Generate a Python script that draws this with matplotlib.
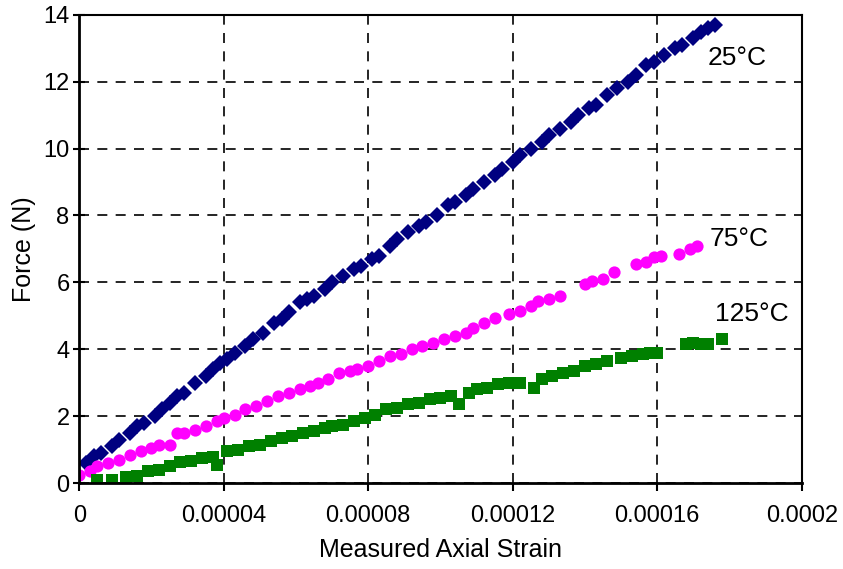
import numpy as np
import matplotlib.pyplot as plt

plt.rcParams['font.family'] = ['Liberation Sans', 'DejaVu Sans']

# strain readings are in units of 1e-5, force in N
strain_25 = [0.2, 0.4, 0.6, 0.9, 1.1, 1.4, 1.6, 1.8, 2.1, 2.3, 2.5, 2.7, 2.9, 3.2, 3.5,
             3.7, 3.9, 4.1, 4.3, 4.6, 4.8, 5.1, 5.4, 5.6, 5.8, 6.1, 6.3, 6.5, 6.8, 7.0,
             7.3, 7.6, 7.8, 8.1, 8.3, 8.6, 8.8, 9.1, 9.4, 9.6, 9.9, 10.2, 10.4, 10.7,
             10.9, 11.2, 11.5, 11.7, 12.0, 12.2, 12.5, 12.8, 13.0, 13.3, 13.6, 13.8,
             14.1, 14.3, 14.6, 14.9, 15.2, 15.4, 15.7, 15.9, 16.2, 16.5, 16.7, 17.0,
             17.2, 17.4, 17.6]
force_25 = [0.6, 0.8, 0.9, 1.1, 1.3, 1.5, 1.7, 1.8, 2.0, 2.2, 2.4, 2.6, 2.7, 3.0, 3.2,
            3.4, 3.6, 3.7, 3.9, 4.1, 4.3, 4.5, 4.8, 4.9, 5.1, 5.4, 5.5, 5.6, 5.8, 6.0,
            6.2, 6.4, 6.5, 6.7, 6.8, 7.1, 7.3, 7.5, 7.7, 7.8, 8.0, 8.3, 8.4, 8.6,
            8.8, 9.0, 9.2, 9.4, 9.6, 9.8, 10.0, 10.2, 10.4, 10.6, 10.8, 11.0,
            11.2, 11.3, 11.6, 11.8, 12.0, 12.2, 12.5, 12.6, 12.8, 13.0, 13.1, 13.3,
            13.5, 13.6, 13.7]

strain_75 = [0.0, 0.3, 0.5, 0.8, 1.1, 1.4, 1.7, 2.0, 2.2, 2.5, 2.7, 2.9, 3.2, 3.5,
             3.8, 4.0, 4.3, 4.6, 4.9, 5.2, 5.5, 5.8, 6.1, 6.4, 6.6, 6.9, 7.2, 7.5,
             7.7, 8.0, 8.3, 8.6, 8.9, 9.2, 9.5, 9.8, 10.1, 10.4, 10.7, 10.9, 11.2,
             11.5, 11.9, 12.2, 12.5, 12.7, 13.0, 13.3, 14.0, 14.2, 14.5, 14.8, 15.4,
             15.7, 15.9, 16.1, 16.6, 16.9, 17.1]
force_75 = [0.25, 0.35, 0.5, 0.6, 0.7, 0.85, 0.95, 1.05, 1.15, 1.15, 1.5, 1.5, 1.6, 1.7,
            1.85, 1.95, 2.05, 2.2, 2.3, 2.45, 2.6, 2.7, 2.8, 2.9, 3.0, 3.1, 3.3, 3.35,
            3.4, 3.5, 3.65, 3.8, 3.85, 4.0, 4.1, 4.2, 4.3, 4.4, 4.5, 4.65, 4.8,
            4.95, 5.05, 5.15, 5.3, 5.45, 5.5, 5.6, 5.95, 6.05, 6.1, 6.3, 6.55,
            6.6, 6.75, 6.8, 6.85, 7.0, 7.1]

strain_125 = [0.5, 0.9, 1.3, 1.6, 1.9, 2.2, 2.5, 2.8, 3.1, 3.4, 3.7, 3.8, 4.1, 4.4,
              4.7, 5.0, 5.3, 5.6, 5.9, 6.2, 6.5, 6.8, 7.0, 7.3, 7.6, 7.9, 8.2, 8.5,
              8.8, 9.1, 9.4, 9.7, 10.0, 10.3, 10.5, 10.8, 11.0, 11.3, 11.6, 11.9,
              12.2, 12.6, 12.8, 13.1, 13.4, 13.7, 14.0, 14.3, 14.6, 15.0, 15.3, 15.6,
              15.8, 16.0, 16.8, 17.0, 17.2, 17.4, 17.8]
force_125 = [0.1, 0.1, 0.18, 0.2, 0.35, 0.4, 0.5, 0.62, 0.65, 0.75, 0.78, 0.55, 0.95, 1.0,
             1.1, 1.15, 1.25, 1.35, 1.4, 1.5, 1.55, 1.65, 1.7, 1.75, 1.85, 1.95, 2.05, 2.2,
             2.25, 2.35, 2.4, 2.5, 2.55, 2.6, 2.35, 2.7, 2.8, 2.85, 2.95, 3.0,
             3.0, 2.85, 3.1, 3.2, 3.3, 3.35, 3.5, 3.55, 3.65, 3.75, 3.8, 3.85,
             3.9, 3.9, 4.15, 4.2, 4.15, 4.15, 4.3]

labels = ['25°C', '75°C', '125°C']
label_pos = [(0.000174, 12.7), (0.0001745, 7.3), (0.000176, 5.05)]

fig, ax = plt.subplots(figsize=(8.43, 5.69), dpi=100)
fig.subplots_adjust(left=0.094, right=0.951, bottom=0.151, top=0.974)

ax.plot(np.array(strain_25) * 1e-5, force_25, 'D', color='#000080', markersize=8,
        markeredgewidth=0, linestyle='none')
ax.plot(np.array(strain_75) * 1e-5, force_75, 'o', color='#ff00ff', markersize=8.8,
        markeredgewidth=0, linestyle='none')
ax.plot(np.array(strain_125) * 1e-5, force_125, 's', color='#008000', markersize=8,
        markeredgewidth=0, linestyle='none')

for text, (x, y) in zip(labels, label_pos):
    ax.text(x, y, text, fontsize=19, va='center', ha='left')

ax.set_xlim(0, 0.0002)
ax.set_ylim(0, 14)
ax.set_xticks(np.arange(0, 0.00021, 0.00004))
ax.set_xticklabels(['0', '0.00004', '0.00008', '0.00012', '0.00016', '0.0002'])
ax.set_yticks(np.arange(0, 15, 2))

ax.grid(True, color='black', linestyle=(0, (6, 5)), linewidth=1.2)
ax.set_axisbelow(True)

for side in ['left', 'bottom']:
    ax.spines[side].set_linewidth(2)
for side in ['top', 'right']:
    ax.spines[side].set_linewidth(1.5)

ax.tick_params(axis='y', direction='inout', length=8, width=1.5, labelsize=17, pad=3)
ax.tick_params(axis='x', direction='out', length=6, width=1.5, labelsize=17, pad=10)

ax.set_xlabel('Measured Axial Strain', fontsize=18, labelpad=8)
ax.set_ylabel('Force (N)', fontsize=18, labelpad=5)

fig.savefig('out.png')
